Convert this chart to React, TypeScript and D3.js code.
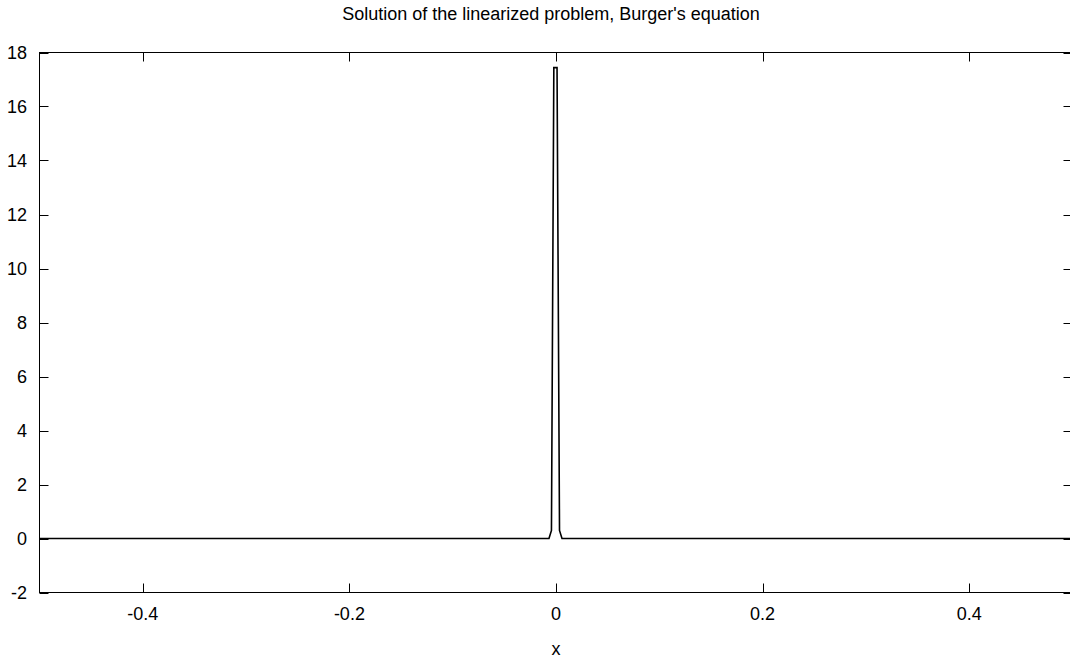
import React, { useEffect, useRef } from 'react';
import * as d3 from 'd3';

// solution samples
const xs = [-0.5, -0.0068, -0.0044, -0.0021, 0.001, 0.0034, 0.0058, 0.5];
const ys = [0, 0, 0.3, 17.44, 17.44, 0.3, 0, 0];

const xTicks = [-0.4, -0.2, 0, 0.2, 0.4];
const yTicks = [-2, 0, 2, 4, 6, 8, 10, 12, 14, 16, 18];

const title = "Solution of the linearized problem, Burger's equation";
const xLabel = 'x';

const W = 1070;
const H = 660;

const App = () => {
  const svgRef = useRef<SVGSVGElement>(null);

  useEffect(() => {
    const svg = d3.select(svgRef.current);
    svg.selectAll('*').remove();

    const left = 39.5, right = 1072.5, top = 52.5, bottom = 592.5;
    const font = 'Liberation Sans, Arial, sans-serif';

    const x = d3.scaleLinear().domain([-0.5, 0.5]).range([left, right]);
    const y = d3.scaleLinear().domain([-2, 18]).range([bottom, top]);

    const g = svg.append('g');

    // frame
    g.append('rect')
      .attr('x', left).attr('y', top)
      .attr('width', right - left).attr('height', bottom - top)
      .attr('fill', 'none').attr('stroke', '#000').attr('stroke-width', 1);

    const tl = 9;
    // x ticks, bottom and top, pointing inward
    xTicks.forEach(t => {
      const px = Math.round(x(t)) + 0.5;
      g.append('line').attr('x1', px).attr('x2', px).attr('y1', bottom).attr('y2', bottom - tl).attr('stroke', '#000');
      g.append('line').attr('x1', px).attr('x2', px).attr('y1', top).attr('y2', top + tl).attr('stroke', '#000');
      g.append('text')
        .attr('x', x(t)).attr('y', bottom + 27.5)
        .attr('text-anchor', 'middle')
        .style('font-family', font).style('font-size', '18px')
        .text(t === 0 ? '0' : String(t));
    });

    // y ticks, left and right
    yTicks.forEach(t => {
      const py = Math.round(y(t)) + 0.5;
      g.append('line').attr('x1', left).attr('x2', left + tl).attr('y1', py).attr('y2', py).attr('stroke', '#000');
      g.append('line').attr('x1', right).attr('x2', right - tl).attr('y1', py).attr('y2', py).attr('stroke', '#000');
      g.append('text')
        .attr('x', 27).attr('y', y(t))
        .attr('dy', '0.36em')
        .attr('text-anchor', 'end')
        .style('font-family', font).style('font-size', '18px')
        .text(String(t));
    });

    // curve
    const data = xs.map((v, i) => [v, ys[i]] as [number, number]);
    g.append('path')
      .datum(data)
      .attr('d', d3.line<[number, number]>().x(d => x(d[0])).y(d => y(d[1])))
      .attr('fill', 'none')
      .attr('stroke', '#000')
      .attr('stroke-width', 1.6)
      .attr('stroke-linejoin', 'miter');

    // title
    g.append('text')
      .attr('x', 551).attr('y', 20)
      .attr('text-anchor', 'middle')
      .style('font-family', font).style('font-size', '18px')
      .text(title);

    // x label
    g.append('text')
      .attr('x', x(0)).attr('y', 655)
      .attr('text-anchor', 'middle')
      .style('font-family', font).style('font-size', '18px')
      .text(xLabel);
  }, []);

  return (
    <div style={{ position: 'absolute', left: 0, top: 0 }}>
      <svg ref={svgRef} width={W} height={H} style={{ display: 'block', background: '#fff' }}></svg>
    </div>
  );
};

export default App;
